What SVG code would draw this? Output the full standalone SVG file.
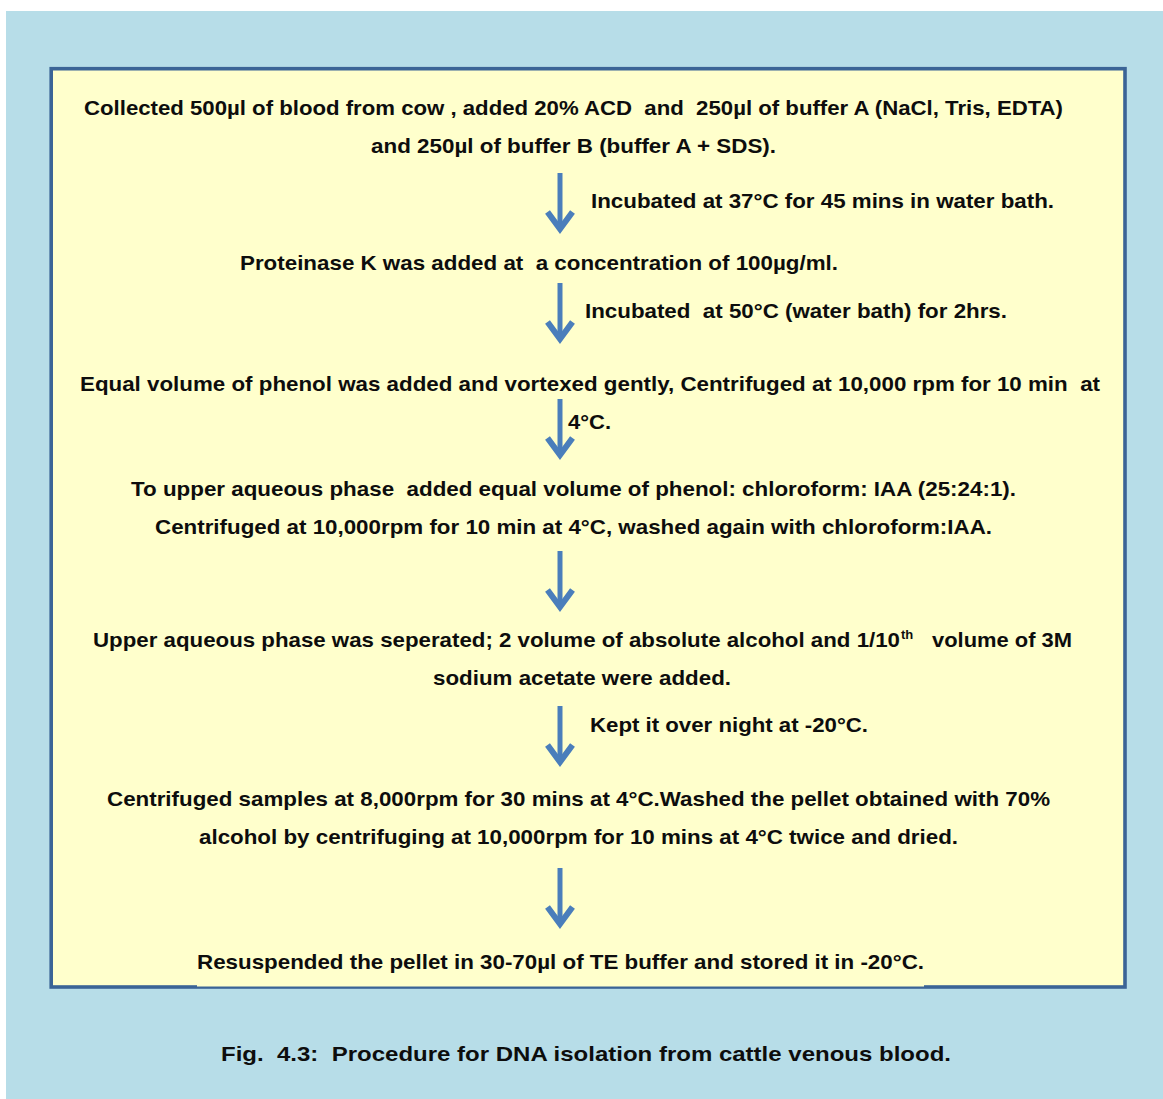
<svg xmlns="http://www.w3.org/2000/svg" width="1163" height="1099" viewBox="0 0 1163 1099">
  <style>
    .t { font-family: "Liberation Sans", Arial, sans-serif; font-weight: bold; font-size: 21px; fill: #0d0d0d; white-space: pre; }
    .sup { font-size: 13px; }
    .arrow { stroke: #4a7ebb; fill: none; }
    .shaft { stroke-width: 5; }
    .head { stroke-width: 6; stroke-linejoin: miter; stroke-linecap: butt; }
  </style>
  <defs>
    <g id="down">
      <line class="arrow shaft" x1="0" y1="0" x2="0" y2="55"/>
      <path class="arrow head" d="M-12.5,39 L0,56 L12.5,39"/>
    </g>
  </defs>

  <!-- page background -->
  <rect x="0" y="0" width="1163" height="1099" fill="#ffffff"/>
  <rect x="6" y="11" width="1157" height="1088" fill="#b7dde8"/>

  <!-- procedure panel -->
  <g id="panel">
    <rect x="51.2" y="68.7" width="1073.8" height="918.3" fill="#ffffcc" stroke="#3b6496" stroke-width="3.6"/>
    <!-- text backing of the last step sits over the lower frame edge -->
    <rect x="197" y="945" width="727" height="41.5" fill="#ffffcc"/>
  </g>

  <!-- connectors -->
  <g id="connectors">
    <use href="#down" x="560" y="173"/>
    <use href="#down" x="560" y="283"/>
    <use href="#down" x="560" y="399"/>
    <use href="#down" x="560" y="551"/>
    <use href="#down" x="560" y="706"/>
    <use href="#down" x="560" y="868"/>
  </g>

  <g id="step1">
    <text class="t" x="84" y="115" textLength="979" lengthAdjust="spacingAndGlyphs">Collected 500µl of blood from cow , added 20% ACD  and  250µl of buffer A (NaCl, Tris, EDTA)</text>
    <text class="t" x="371" y="153" textLength="405" lengthAdjust="spacingAndGlyphs">and 250µl of buffer B (buffer A + SDS).</text>
  </g>
  <g id="label1">
    <text class="t" x="591" y="208" textLength="463" lengthAdjust="spacingAndGlyphs">Incubated at 37°C for 45 mins in water bath.</text>
  </g>
  <g id="step2">
    <text class="t" x="240" y="270" textLength="598" lengthAdjust="spacingAndGlyphs">Proteinase K was added at  a concentration of 100µg/ml.</text>
  </g>
  <g id="label2">
    <text class="t" x="585" y="318" textLength="422" lengthAdjust="spacingAndGlyphs">Incubated  at 50°C (water bath) for 2hrs.</text>
  </g>
  <g id="step3">
    <text class="t" x="80" y="391" textLength="1020" lengthAdjust="spacingAndGlyphs">Equal volume of phenol was added and vortexed gently, Centrifuged at 10,000 rpm for 10 min  at</text>
    <text class="t" x="568" y="429" textLength="43" lengthAdjust="spacingAndGlyphs">4°C.</text>
  </g>
  <g id="step4">
    <text class="t" x="131" y="496" textLength="885" lengthAdjust="spacingAndGlyphs">To upper aqueous phase  added equal volume of phenol: chloroform: IAA (25:24:1).</text>
    <text class="t" x="155" y="534" textLength="837" lengthAdjust="spacingAndGlyphs">Centrifuged at 10,000rpm for 10 min at 4°C, washed again with chloroform:IAA.</text>
  </g>
  <g id="step5">
    <text class="t" x="93" y="647" textLength="807" lengthAdjust="spacingAndGlyphs">Upper aqueous phase was seperated; 2 volume of absolute alcohol and 1/10</text>
    <text class="t sup" x="901" y="639">th</text>
    <text class="t" x="932" y="647" textLength="140" lengthAdjust="spacingAndGlyphs">volume of 3M</text>
    <text class="t" x="433" y="685" textLength="298" lengthAdjust="spacingAndGlyphs">sodium acetate were added.</text>
  </g>
  <g id="label5">
    <text class="t" x="590" y="732" textLength="278" lengthAdjust="spacingAndGlyphs">Kept it over night at -20°C.</text>
  </g>
  <g id="step6">
    <text class="t" x="107" y="806" textLength="943" lengthAdjust="spacingAndGlyphs">Centrifuged samples at 8,000rpm for 30 mins at 4°C.Washed the pellet obtained with 70%</text>
    <text class="t" x="199" y="844" textLength="759" lengthAdjust="spacingAndGlyphs">alcohol by centrifuging at 10,000rpm for 10 mins at 4°C twice and dried.</text>
  </g>
  <g id="step7">
    <text class="t" x="197" y="969" textLength="727" lengthAdjust="spacingAndGlyphs">Resuspended the pellet in 30-70µl of TE buffer and stored it in -20°C.</text>
  </g>

  <g id="caption">
    <text class="t" x="221" y="1061" textLength="730" lengthAdjust="spacingAndGlyphs">Fig.  4.3:  Procedure for DNA isolation from cattle venous blood.</text>
  </g>
</svg>
